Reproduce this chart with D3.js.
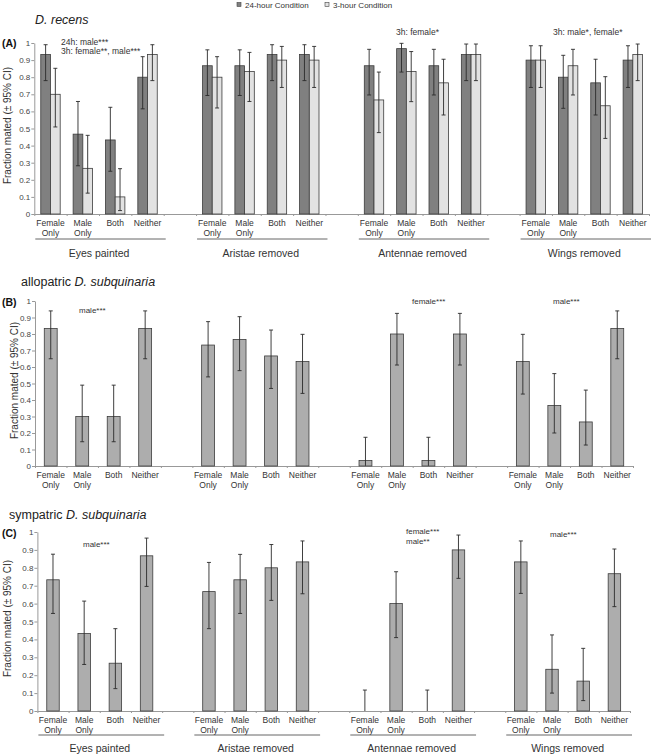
<!DOCTYPE html>
<html>
<head>
<meta charset="utf-8">
<script src="https://cdn.jsdelivr.net/npm/d3@7"></script>
<style>
  body { margin: 0; background: #fff; }
  svg { font-family: "Liberation Sans", Arial, sans-serif; }
</style>
</head>
<body>
<div id="chart"></div>
<script>

// categories and treatments
var categories = [["Female", "Only"], ["Male", "Only"], ["Both"], ["Neither"]];
var treatments = ["Eyes painted", "Aristae removed", "Antennae removed", "Wings removed"];
var yTicks = [0, 0.1, 0.2, 0.3, 0.4, 0.5, 0.6, 0.7, 0.8, 0.9, 1];

// (A) D. recens, 24-hour condition: value, lower CI, upper CI
var recens24 = [0.933, 0.467, 0.433, 0.8, 0.867, 0.867, 0.933, 0.933, 0.867, 0.967, 0.867, 0.933, 0.9, 0.8, 0.767, 0.9];
var recens24Lo = [0.78, 0.282, 0.25, 0.615, 0.693, 0.693, 0.78, 0.78, 0.696, 0.83, 0.696, 0.78, 0.74, 0.618, 0.579, 0.74];
var recens24Hi = [0.99, 0.658, 0.624, 0.92, 0.96, 0.96, 0.99, 0.99, 0.963, 0.998, 0.963, 0.994, 0.984, 0.928, 0.905, 0.984];

// (A) D. recens, 3-hour condition
var recens3 = [0.7, 0.267, 0.1, 0.933, 0.8, 0.833, 0.9, 0.9, 0.667, 0.833, 0.767, 0.933, 0.9, 0.867, 0.633, 0.933];
var recens3Lo = [0.509, 0.122, 0.02, 0.78, 0.62, 0.658, 0.74, 0.74, 0.476, 0.657, 0.579, 0.78, 0.74, 0.696, 0.442, 0.78];
var recens3Hi = [0.852, 0.46, 0.265, 0.99, 0.92, 0.945, 0.98, 0.98, 0.83, 0.95, 0.905, 0.994, 0.984, 0.963, 0.803, 0.994];

// (B) allopatric D. subquinaria
var allo = [0.833, 0.3, 0.3, 0.833, 0.733, 0.767, 0.667, 0.633, 0.033, 0.8, 0.033, 0.8, 0.633, 0.367, 0.267, 0.833];
var alloLo = [0.65, 0.147, 0.147, 0.65, 0.54, 0.578, 0.47, 0.44, 0.001, 0.612, 0.001, 0.612, 0.436, 0.2, 0.127, 0.65];
var alloHi = [0.94, 0.49, 0.49, 0.94, 0.875, 0.905, 0.824, 0.798, 0.174, 0.925, 0.174, 0.925, 0.798, 0.56, 0.46, 0.94];

// (C) sympatric D. subquinaria
var symp = [0.733, 0.433, 0.267, 0.867, 0.667, 0.733, 0.8, 0.833, 0, 0.6, 0, 0.9, 0.833, 0.233, 0.167, 0.767];
var sympLo = [0.545, 0.26, 0.125, 0.696, 0.46, 0.545, 0.618, 0.655, 0, 0.41, 0, 0.741, 0.657, 0.1, 0.058, 0.583];
var sympHi = [0.876, 0.614, 0.46, 0.966, 0.83, 0.875, 0.93, 0.95, 0.117, 0.778, 0.117, 0.983, 0.95, 0.425, 0.35, 0.905];

var legendNames = ["24-hour Condition", "3-hour Condition"];


function main() {

    var W = 651, H = 754;

    var svg = d3.select("#chart")
        .append("svg")
        .attr("width", W)
        .attr("height", H);

    // colours
    var darkFill = "#808080", lightFill = "#e2e2e2", midFill = "#adadad";

    // panel layout
    var panels = [
        {
            letter: "(A)", titlePre: "", titleIt: "D. recens", titleX: 35, titleY: 24, letterY: 47,
            top: 43, bottom: 214, x0: 34.3, x1: 649, yLabelX: 8,
            labelY: 226, groupLineY: 239, groupLabelY: 257, groups: true,
            series: [
                {v: recens24, lo: recens24Lo, hi: recens24Hi, fill: darkFill, off: -0.3, w: 0.3},
                {v: recens3, lo: recens3Lo, hi: recens3Hi, fill: lightFill, off: 0, w: 0.3}
            ],
            notes: [
                {x: 61, y: 45, t: "24h: male***"},
                {x: 61, y: 54, t: "3h: female**, male***"},
                {x: 396, y: 35, t: "3h: female*"},
                {x: 553, y: 35, t: "3h: male*, female*"}
            ],
            noteSize: "8.5px"
        },
        {
            letter: "(B)", titlePre: "allopatric ", titleIt: "D. subquinaria", titleX: 21, titleY: 286, letterY: 306,
            top: 301, bottom: 466, x0: 35, x1: 633, yLabelX: 15,
            labelY: 478, groups: false,
            series: [
                {v: allo, lo: alloLo, hi: alloHi, fill: midFill, off: -0.205, w: 0.41}
            ],
            notes: [
                {x: 79, y: 313, t: "male***"},
                {x: 412, y: 304, t: "female***"},
                {x: 553, y: 304, t: "male***"}
            ],
            noteSize: "8px"
        },
        {
            letter: "(C)", titlePre: "sympatric ", titleIt: "D. subquinaria", titleX: 9, titleY: 519, letterY: 537,
            top: 532, bottom: 711, x0: 37.4, x1: 630, yLabelX: 8,
            labelY: 723, groupLineY: 735, groupLabelY: 752, groups: true,
            series: [
                {v: symp, lo: sympLo, hi: sympHi, fill: midFill, off: -0.2, w: 0.4}
            ],
            notes: [
                {x: 83, y: 547, t: "male***"},
                {x: 406, y: 534, t: "female***"},
                {x: 406, y: 544, t: "male**"},
                {x: 550, y: 537, t: "male***"}
            ],
            noteSize: "8px"
        }
    ];

    // legend
    var legend = svg.append("g").attr("font-size", "8px").attr("fill", "#333");
    var legendX = [237, 325];
    legendNames.forEach(function (name, i) {
        legend.append("rect")
            .attr("x", legendX[i]).attr("y", 2.5)
            .attr("width", 4).attr("height", 4)
            .attr("fill", i == 0 ? darkFill : lightFill)
            .attr("stroke", "#444").attr("stroke-width", 0.6);
        legend.append("text")
            .attr("x", legendX[i] + 8).attr("y", 7.5)
            .text(name);
    });

    panels.forEach(function (p) {

        var g = svg.append("g");

        // scales: 19 slots (4 groups of 4 categories with one empty slot between)
        var slot = d3.scaleLinear().domain([0, 19]).range([p.x0, p.x1]);
        var step = slot(1) - slot(0);
        var y = d3.scaleLinear().domain([0, 1]).range([p.bottom, p.top]);

        // title
        var title = g.append("text")
            .attr("x", p.titleX).attr("y", p.titleY)
            .attr("font-size", "12.5px").attr("fill", "#222");
        if (p.titlePre) title.append("tspan").text(p.titlePre);
        title.append("tspan").attr("font-style", "italic").text(p.titleIt);

        g.append("text")
            .attr("x", 2).attr("y", p.letterY)
            .attr("font-size", "10.5px").attr("font-weight", "bold").attr("fill", "#111")
            .text(p.letter);

        // y axis
        var yAxis = g.append("g")
            .attr("transform", "translate(" + p.x0 + ",0)")
            .call(d3.axisLeft(y).tickValues(yTicks).tickSize(3).tickSizeOuter(0)
                .tickFormat(function (d) { return String(d); }));
        yAxis.select(".domain").attr("stroke", "#999");
        yAxis.selectAll(".tick line").attr("stroke", "#999");
        yAxis.selectAll(".tick text").attr("font-size", "8px").attr("fill", "#444")
            .attr("font-family", "Liberation Sans, Arial, sans-serif").attr("x", -4);

        // y axis label
        g.append("text")
            .attr("transform", "translate(" + p.yLabelX + "," + ((p.top + p.bottom) / 2 - 3) + ") rotate(-90)")
            .attr("text-anchor", "middle")
            .attr("dominant-baseline", "middle")
            .attr("font-size", "10px").attr("fill", "#333")
            .text("Fraction mated (\u00b1 95% CI)");

        // x axis with ticks at slot boundaries
        var xAxis = g.append("g")
            .attr("transform", "translate(0," + p.bottom + ")")
            .call(d3.axisBottom(slot).tickValues(d3.range(20)).tickSize(2).tickSizeOuter(0).tickFormat(""));
        xAxis.select(".domain").attr("stroke", "#999");
        xAxis.selectAll(".tick line").attr("stroke", "#999");

        // bars and error bars
        p.series.forEach(function (s) {
            var items = s.v.map(function (v, i) {
                return {v: v, lo: s.lo[i], hi: s.hi[i], slot: Math.floor(i / 4) * 5 + (i % 4)};
            });
            var bw = s.w * step;

            g.append("g").selectAll("rect")
                .data(items)
                .join("rect")
                .attr("x", function (d) { return slot(d.slot + 0.5) + s.off * step; })
                .attr("y", function (d) { return y(d.v); })
                .attr("width", bw)
                .attr("height", function (d) { return y(0) - y(d.v); })
                .attr("fill", s.fill)
                .attr("stroke", "#3c3c3c")
                .attr("stroke-width", 0.8)
                .attr("stroke-opacity", function (d) { return d.v > 0 ? 1 : 0; });

            var eb = g.append("g").attr("stroke", "#2a2a2a").attr("stroke-width", 0.9);
            items.forEach(function (d) {
                var cx = slot(d.slot + 0.5) + s.off * step + bw / 2;
                eb.append("line").attr("x1", cx).attr("x2", cx).attr("y1", y(d.lo)).attr("y2", y(d.hi));
                eb.append("line").attr("x1", cx - 2).attr("x2", cx + 2).attr("y1", y(d.hi)).attr("y2", y(d.hi));
                if (d.lo > 0.005) {
                    eb.append("line").attr("x1", cx - 2).attr("x2", cx + 2).attr("y1", y(d.lo)).attr("y2", y(d.lo));
                }
            });
        });

        // category labels
        var labels = g.append("g").attr("font-size", "8.5px").attr("fill", "#333").attr("text-anchor", "middle");
        treatments.forEach(function (t, ti) {
            categories.forEach(function (c, ci) {
                var cx = slot(ti * 5 + ci + 0.5);
                var txt = labels.append("text").attr("x", cx).attr("y", p.labelY);
                c.forEach(function (line, li) {
                    txt.append("tspan").attr("x", cx).attr("dy", li == 0 ? 0 : 10).text(line);
                });
            });

            if (p.groups) {
                g.append("line")
                    .attr("x1", slot(ti * 5) + 1).attr("x2", slot(ti * 5 + 4) + 2)
                    .attr("y1", p.groupLineY).attr("y2", p.groupLineY)
                    .attr("stroke", "#555").attr("stroke-width", 0.9);
                g.append("text")
                    .attr("x", slot(ti * 5 + 2)).attr("y", p.groupLabelY)
                    .attr("text-anchor", "middle")
                    .attr("font-size", "10.5px").attr("fill", "#333")
                    .text(t);
            }
        });

        // significance notes
        g.append("g").selectAll("text")
            .data(p.notes)
            .join("text")
            .attr("x", function (d) { return d.x; })
            .attr("y", function (d) { return d.y; })
            .attr("font-size", p.noteSize)
            .attr("fill", "#333")
            .text(function (d) { return d.t; });
    });
}

main()
</script>
</body>
</html>
